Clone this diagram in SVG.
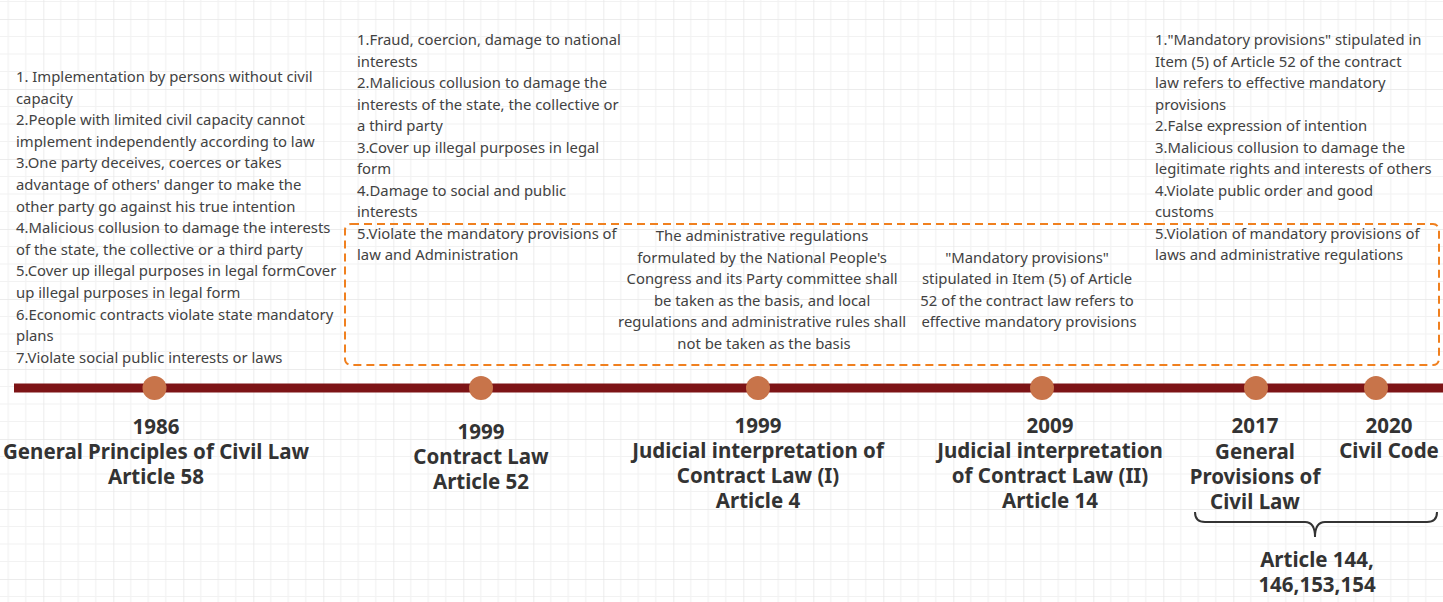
<svg xmlns="http://www.w3.org/2000/svg" width="1443" height="602" viewBox="0 0 1443 602">
<style>
.body{font-family:"Noto Sans","Liberation Sans",sans-serif;font-size:14.85px;fill:#424242}
.mid{text-anchor:middle}
.lbl{font-family:"Noto Sans","Liberation Sans",sans-serif;font-size:20.5px;font-weight:bold;fill:#333;text-anchor:middle}
.dot{fill:#c8744a}
</style>
<defs>
<pattern id="grid" x="43.3" y="19" width="70" height="70" patternUnits="userSpaceOnUse">
<path d="M17.5 0V70M35 0V70M52.5 0V70M0 17.5H70M0 35H70M0 52.5H70" stroke="#f2f2f2" stroke-width="1.2" fill="none"/>
<path d="M0 0V70M0 0H70" stroke="#e6e6e6" stroke-width="1.5" fill="none"/>
</pattern>
</defs>
<rect width="1443" height="602" fill="#fff"/>
<rect width="1443" height="602" fill="url(#grid)"/>

<g id="connectors">
<rect x="345" y="224" width="1094" height="141" rx="6" fill="none" stroke="#f0801f" stroke-width="2" stroke-dasharray="8 5"/>
<rect x="14" y="383.5" width="1429" height="9" fill="#7d1416"/>
<path d="M1195 512 Q1195 522 1205 522 H1305 Q1315 522 1315 537 Q1315 522 1325 522 H1427 Q1437 522 1437 512" fill="none" stroke="#333" stroke-width="2"/>
</g>

<g id="n1986">
<circle class="dot" cx="154.5" cy="388" r="12"/>
<text class="lbl"><tspan x="156" y="434">1986</tspan><tspan x="156" y="459">General Principles of Civil Law</tspan><tspan x="156" y="484">Article 58</tspan></text>
<text class="body">
<tspan x="16" y="82">1. Implementation by persons without civil</tspan>
<tspan x="16" y="103.6">capacity</tspan>
<tspan x="16" y="125.2">2.People with limited civil capacity cannot</tspan>
<tspan x="16" y="146.8">implement independently according to law</tspan>
<tspan x="16" y="168.4">3.One party deceives, coerces or takes</tspan>
<tspan x="16" y="190">advantage of others' danger to make the</tspan>
<tspan x="16" y="211.6">other party go against his true intention</tspan>
<tspan x="16" y="233.2">4.Malicious collusion to damage the interests</tspan>
<tspan x="16" y="254.8">of the state, the collective or a third party</tspan>
<tspan x="16" y="276.4">5.Cover up illegal purposes in legal formCover</tspan>
<tspan x="16" y="298">up illegal purposes in legal form</tspan>
<tspan x="16" y="319.6">6.Economic contracts violate state mandatory</tspan>
<tspan x="16" y="341.2">plans</tspan>
<tspan x="16" y="362.8">7.Violate social public interests or laws</tspan>
</text>
</g>

<g id="n1999a">
<circle class="dot" cx="481" cy="388" r="12"/>
<text class="lbl"><tspan x="481" y="439">1999</tspan><tspan x="481" y="464">Contract Law</tspan><tspan x="481" y="489">Article 52</tspan></text>
<text class="body">
<tspan x="357" y="45">1.Fraud, coercion, damage to national</tspan>
<tspan x="357" y="66.5">interests</tspan>
<tspan x="357" y="88">2.Malicious collusion to damage the</tspan>
<tspan x="357" y="109.5">interests of the state, the collective or</tspan>
<tspan x="357" y="131">a third party</tspan>
<tspan x="357" y="152.5">3.Cover up illegal purposes in legal</tspan>
<tspan x="357" y="174">form</tspan>
<tspan x="357" y="195.5">4.Damage to social and public</tspan>
<tspan x="357" y="217">interests</tspan>
<tspan x="357" y="238.5">5.Violate the mandatory provisions of</tspan>
<tspan x="357" y="260">law and Administration</tspan>
</text>
</g>

<g id="n1999b">
<circle class="dot" cx="758" cy="388" r="12"/>
<text class="lbl"><tspan x="758" y="433">1999</tspan><tspan x="758" y="458">Judicial interpretation of</tspan><tspan x="758" y="483">Contract Law (I)</tspan><tspan x="758" y="508">Article 4</tspan></text>
<text class="body mid">
<tspan x="764" y="241">The administrative regulations</tspan>
<tspan x="764" y="262.5">formulated by the National People's</tspan>
<tspan x="764" y="284">Congress and its Party committee shall</tspan>
<tspan x="764" y="305.5">be taken as the basis, and local</tspan>
<tspan x="764" y="327">regulations and administrative rules shall</tspan>
<tspan x="764" y="348.5">not be taken as the basis</tspan>
</text>
</g>

<g id="n2009">
<circle class="dot" cx="1042" cy="388" r="12"/>
<text class="lbl"><tspan x="1050" y="433">2009</tspan><tspan x="1050" y="458">Judicial interpretation</tspan><tspan x="1050" y="483">of Contract Law (II)</tspan><tspan x="1050" y="508">Article 14</tspan></text>
<text class="body mid">
<tspan x="1029" y="262.5">"Mandatory provisions"</tspan>
<tspan x="1029" y="284">stipulated in Item (5) of Article</tspan>
<tspan x="1029" y="305.5">52 of the contract law refers to</tspan>
<tspan x="1029" y="327">effective mandatory provisions</tspan>
</text>
</g>

<g id="n2017">
<circle class="dot" cx="1256" cy="388" r="12"/>
<text class="lbl"><tspan x="1255" y="433">2017</tspan><tspan x="1255" y="459">General</tspan><tspan x="1255" y="484">Provisions of</tspan><tspan x="1255" y="509">Civil Law</tspan></text>
<text class="body">
<tspan x="1155" y="45">1."Mandatory provisions" stipulated in</tspan>
<tspan x="1155" y="66.5">Item (5) of Article 52 of the contract</tspan>
<tspan x="1155" y="88">law refers to effective mandatory</tspan>
<tspan x="1155" y="109.5">provisions</tspan>
<tspan x="1155" y="131">2.False expression of intention</tspan>
<tspan x="1155" y="152.5">3.Malicious collusion to damage the</tspan>
<tspan x="1155" y="174">legitimate rights and interests of others</tspan>
<tspan x="1155" y="195.5">4.Violate public order and good</tspan>
<tspan x="1155" y="217">customs</tspan>
<tspan x="1155" y="238.5">5.Violation of mandatory provisions of</tspan>
<tspan x="1155" y="260">laws and administrative regulations</tspan>
</text>
</g>

<g id="n2020">
<circle class="dot" cx="1376" cy="388" r="12"/>
<text class="lbl"><tspan x="1389" y="433">2020</tspan><tspan x="1389" y="458">Civil Code</tspan></text>
</g>

<g id="articles">
<text class="lbl"><tspan x="1317" y="567">Article 144,</tspan><tspan x="1317" y="592">146,153,154</tspan></text>
</g>
</svg>
